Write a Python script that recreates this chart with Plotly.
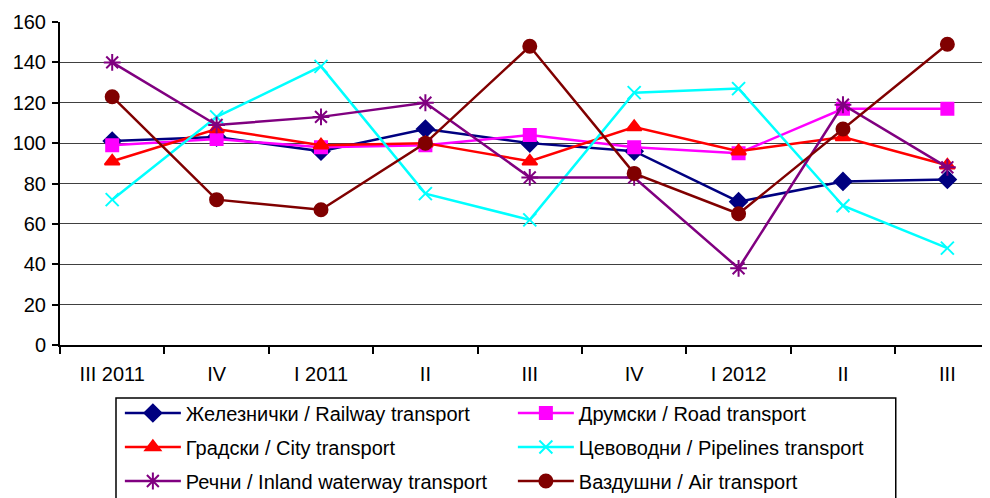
import plotly.graph_objects as go

quarters = ["III 2011", "IV", "I 2011", "II", "III", "IV", "I 2012", "II", "III"]

railway = [101, 103, 96, 107, 100, 96, 71, 81, 82]
road = [99, 102, 98, 99, 104, 98, 95, 117, 117]
city = [91, 107, 99, 100, 91, 108, 96, 103, 89]
pipelines = [72, 113, 138, 75, 62, 125, 127, 69, 48]
waterway = [140, 109, 113, 120, 83, 83, 38, 119, 88]
air = [123, 72, 67, 100, 148, 85, 65, 107, 149]

# name, values, colour, marker, size, legend row
series = [
    ("Железнички / Railway transport", railway, "#000080", "diamond", 13, "legend"),
    ("Друмски / Road transport", road, "#FF00FF", "square", 12, "legend"),
    ("Градски / City transport", city, "#FF0000", "triangle-up", 13, "legend2"),
    ("Цевоводни / Pipelines transport", pipelines, "#00FFFF", "x-thin", 13, "legend2"),
    ("Речни / Inland waterway transport", waterway, "#800080", "asterisk", 14, "legend3"),
    ("Ваздушни / Air transport", air, "#800000", "circle", 13, "legend3"),
]

x = list(range(len(quarters)))

fig = go.Figure()
for name, vals, color, symbol, size, leg in series:
    fig.add_trace(go.Scatter(
        x=x, y=vals, name=name, mode="lines+markers", legend=leg,
        line=dict(color=color, width=2.5),
        marker=dict(symbol=symbol, size=size, color=color,
                    line=dict(color=color, width=2)),
    ))

def legend_row(ypos):
    return dict(
        orientation="h", xref="container", x=0.113, xanchor="left",
        yref="container", y=ypos, yanchor="middle",
        entrywidth=322, entrywidthmode="pixels", itemwidth=56,
        bgcolor="rgba(0,0,0,0)", borderwidth=0,
        font=dict(size=20),
    )

# page body adds 8px offset, margins compensate
fig.update_layout(
    width=990, height=498,
    margin=dict(l=52, r=0, t=14, b=161),
    paper_bgcolor="white", plot_bgcolor="white",
    font=dict(family="Liberation Sans, Arial, sans-serif", size=20, color="black"),
    showlegend=True,
    legend=legend_row(1 - 405 / 498),
    legend2=legend_row(1 - 439 / 498),
    legend3=legend_row(1 - 473 / 498),
    shapes=[dict(type="rect", xref="paper", yref="paper",
                 x0=0.0597, x1=0.891, y0=-0.164, y1=-0.6,
                 line=dict(color="black", width=1.5), fillcolor="rgba(0,0,0,0)",
                 layer="below")],
)

fig.update_xaxes(
    range=[-0.5, 8.485], tickmode="array", tickvals=x, ticktext=quarters,
    ticks="", ticklabelstandoff=10, automargin=False,
    tickfont=dict(size=20),
    showgrid=False, zeroline=False,
    showline=True, linecolor="black", linewidth=2,
    minor=dict(tick0=0.5, dtick=1, ticks="outside", ticklen=7,
               tickcolor="black", tickwidth=2, showgrid=False),
)
fig.update_yaxes(
    range=[0, 160], dtick=20, ticks="outside", ticklen=6,
    tickcolor="black", tickwidth=2, automargin=False,
    ticklabelstandoff=2, tickfont=dict(size=20),
    showgrid=True, gridcolor="#404040", gridwidth=1,
    zeroline=False, showline=True, linecolor="black", linewidth=2,
)

fig.write_html("out.html")
